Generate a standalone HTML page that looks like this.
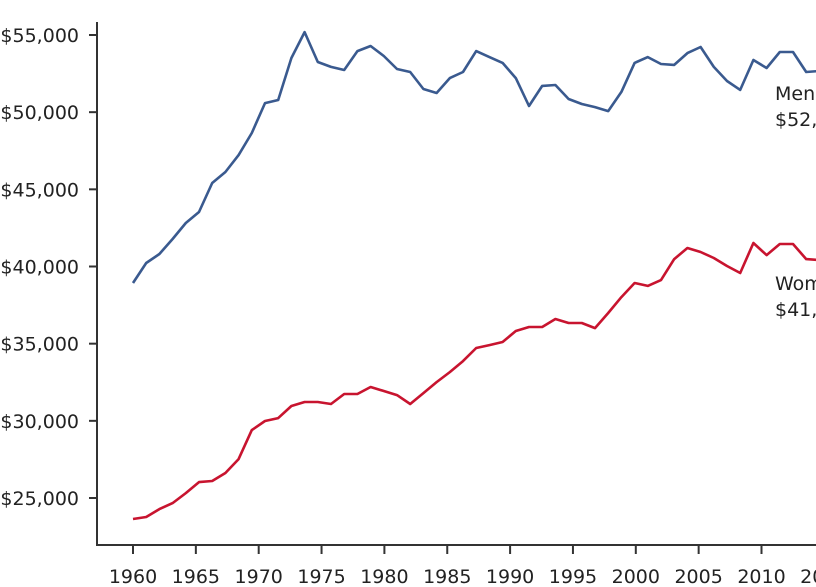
<!DOCTYPE html>
<html><head><meta charset="utf-8"><style>
html,body{margin:0;padding:0;background:#fff;width:816px;height:587px;overflow:hidden}
svg{display:block}
text{font-family:"DejaVu Sans","Liberation Sans",sans-serif;fill:#222}
</style></head><body>
<svg id="chart" width="816" height="587" viewBox="0 0 816 587" xmlns="http://www.w3.org/2000/svg">
<g id="yaxis"></g>
<g id="xaxis"></g>
<g id="series"></g>
<g id="labels"></g>
</svg>
<script>
const startYear = 1960;
const menValues = [38930,40225,40810,41780,42820,43530,45410,46120,47220,48650,50590,50790,53510,55190,53250,52930,52730,53960,54290,53640,52800,52600,51500,51240,52210,52600,53960,53570,53190,52210,50400,51700,51760,50850,50530,50330,50070,51310,53190,53570,53120,53060,53830,54220,52930,52020,51440,53380,52860,53900,53900,52600,52670];
const womenValues = [23640,23770,24280,24670,25320,26030,26100,26620,27520,29400,29990,30180,30960,31220,31220,31090,31740,31740,32190,31930,31670,31090,31800,32510,33160,33870,34720,34910,35110,35820,36080,36080,36600,36340,36340,36010,36990,38020,38930,38740,39120,40480,41200,40940,40550,40030,39580,41520,40740,41460,41460,40480,40420];
const yTicks = [25000,30000,35000,40000,45000,50000,55000];
const yTickLabels = ["$25,000","$30,000","$35,000","$40,000","$45,000","$50,000","$55,000"];
const xTicks = [1960,1965,1970,1975,1980,1985,1990,1995,2000,2005,2010,2015];
const xTickLabels = ["1960","1965","1970","1975","1980","1985","1990","1995","2000","2005","2010","2015"];
const seriesNames = ["Men","Women"];
const seriesLastLabels = ["$52,670","$41,420"];

const NS = "http://www.w3.org/2000/svg";
function y(v){ return 35 + (55000 - v) * (463/30000); }
function xData(i){ return 133 + i * 13.2; }
function xTick(yr){ return 133 + (yr - 1960) * 12.57; }
function mk(tag, attrs, parent){ const e=document.createElementNS(NS,tag); for(const k in attrs) e.setAttribute(k,attrs[k]); parent.appendChild(e); return e; }

const ya=document.getElementById('yaxis');
let l=mk('line',{x1:97,y1:22,x2:97,y2:546,stroke:'#333','stroke-width':2},ya);


yTicks.forEach((v,i)=>{
  const t=mk('line',{x1:89,y1:y(v),x2:97,y2:y(v),stroke:'#333','stroke-width':2},ya);
  
  
  const tx=mk('text',{x:79,y:y(v)+7,'text-anchor':'end','font-size':19},ya);
  
  
  tx.textContent=yTickLabels[i];
});
const xa=document.getElementById('xaxis');
l=mk('line',{x1:96,y1:545,x2:816,y2:545,stroke:'#333','stroke-width':2},xa);


xTicks.forEach((yr,i)=>{
  const t=mk('line',{x1:xTick(yr),y1:545,x2:xTick(yr),y2:554,stroke:'#333','stroke-width':2},xa);
  
  
  const tx=mk('text',{x:xTick(yr),y:583,'text-anchor':'middle','font-size':19},xa);
  
  
  tx.textContent=xTickLabels[i];
});
const sg=document.getElementById('series');
const colors=['#3a5a8f','#c8142f'];
[menValues,womenValues].forEach((vals,s)=>{
  const d=vals.map((v,i)=>(i?'L':'M')+xData(i).toFixed(1)+' '+y(v).toFixed(1)).join(' ');
  const p=mk('path',{d:d,fill:'none',stroke:colors[s],'stroke-width':2.6,'stroke-linejoin':'round'},sg);
  
  
});
const lg=document.getElementById('labels');
const labelY=[100,290];
seriesNames.forEach((n,s)=>{
  const t1=mk('text',{x:775,y:labelY[s],'font-size':19},lg);
  
  
  t1.textContent=n;
  const t2=mk('text',{x:775,y:labelY[s]+26,'font-size':19},lg);
  
  
  t2.textContent=seriesLastLabels[s];
});
</script>
</body></html>
